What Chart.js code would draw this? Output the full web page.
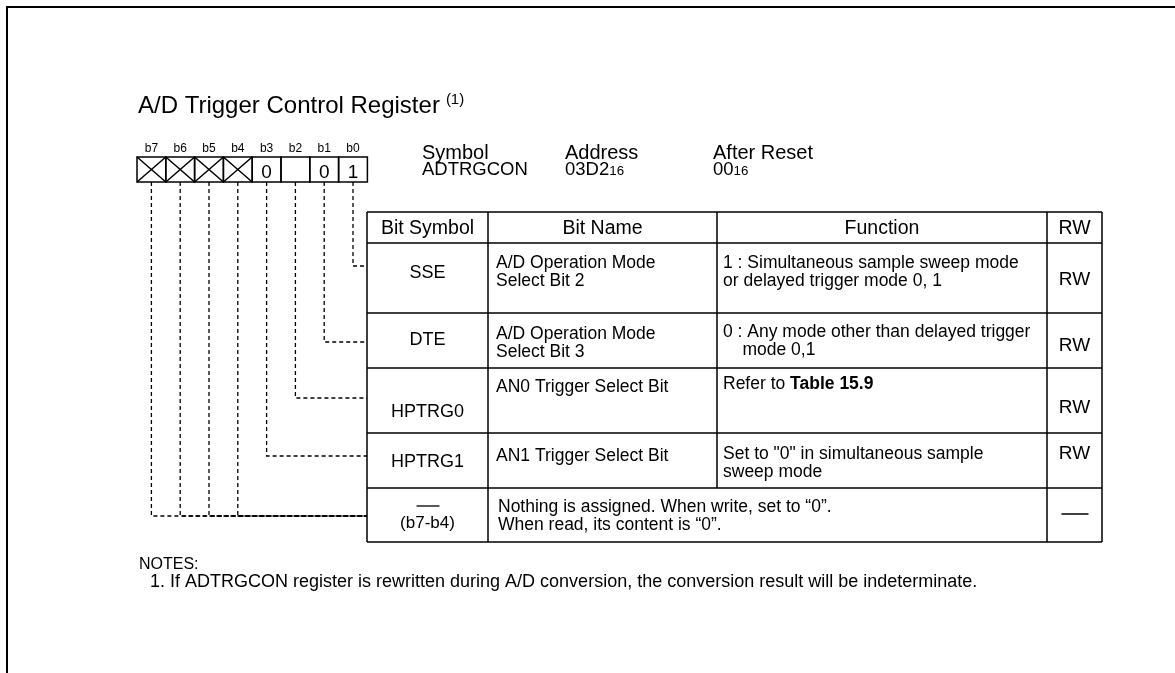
<!DOCTYPE html>
<html>
<head>
<meta charset="utf-8">
<script src="https://cdn.jsdelivr.net/npm/chart.js"></script>
<style>
  html, body { margin: 0; padding: 0; background: #fff; }
  #wrap { width: 1175px; height: 673px; position: relative; }
</style>
</head>
<body>
<div id="wrap"><canvas id="reg"></canvas></div>
<script>
// register content
const titleText = 'A/D Trigger Control Register';
const titleNote = '(1)';
const bitLabels = ['b7', 'b6', 'b5', 'b4', 'b3', 'b2', 'b1', 'b0'];
const bitValues = ['', '', '', '', '0', '', '0', '1'];
const bitReserved = [true, true, true, true, false, false, false, false];
const infoHeads = ['Symbol', 'Address', 'After Reset'];
const infoValues = [[['ADTRGCON']], [['03D2'], ['16', 'sub']], [['00'], ['16', 'sub']]];
const headers = ['Bit Symbol', 'Bit Name', 'Function', 'RW'];
const bitSymbols = ['SSE', 'DTE', 'HPTRG0', 'HPTRG1', '(b7-b4)'];
const bitNames = [
    ['A/D Operation Mode', 'Select Bit 2'],
    ['A/D Operation Mode', 'Select Bit 3'],
    ['AN0 Trigger Select Bit'],
    ['AN1 Trigger Select Bit'],
    null
];
const functions = [
    [[['1 : Simultaneous sample sweep mode']], [['or delayed trigger mode 0, 1']]],
    [[['0 : Any mode other than delayed trigger']], [['    mode 0,1']]],
    [[['Refer to '], ['Table 15.9', 'bold']]],
    [[['Set to "0" in simultaneous sample']], [['sweep mode']]],
    [[['Nothing is assigned. When write, set to \u201c0\u201d.']], [['When read, its content is \u201c0\u201d.']]]
];
const rwValues = ['RW', 'RW', 'RW', 'RW', '-'];
const rowBits = [[7], [6], [5], [4], [0, 1, 2, 3]]; // index into bitLabels
const notes = ['NOTES:', '1. If ADTRGCON register is rewritten during A/D conversion, the conversion result will be indeterminate.'];

// layout (page pixels)
const FONT = '"Liberation Sans", Arial, Helvetica, sans-serif';
const bitX0 = 137, bitW = 28.8, bitTop = 157, bitBottom = 182;
const infoX = [422, 565, 713];
const cols = [367, 488, 717, 1047, 1102];
const rows = [212, 243, 313, 368, 433, 488, 542];
const leaderY = [266, 342, 398, 456, 516];
const symBase = [278, 345, 417, 467, 528];
const textBase = [[268, 286], [339, 357], [392], [461, 479], [512, 530]];
const funcBase = [[268, 286], [337, 355], [389], [459, 477], [512, 530]];
const rwBase = [285, 351, 413, 459, 514];

const bitCenter = i => bitX0 + bitW * (i + 0.5);

// leader lines from each bit to its row
const leaderSets = [];
rowBits.forEach((bits, r) => {
    bits.forEach(b => {
        leaderSets.push({
            data: [
                { x: bitCenter(b), y: bitBottom },
                { x: bitCenter(b), y: leaderY[r] },
                { x: cols[0], y: leaderY[r] }
            ],
            showLine: true,
            borderColor: '#000',
            borderWidth: 1.3,
            borderDash: [4, 3],
            pointRadius: 0,
            tension: 0
        });
    });
});

function drawSegs(ctx, segs, x, y, size, align) {
    const fontFor = s => (s[1] === 'bold' ? 'bold ' : '') + (s[1] === 'sub' ? size * 0.72 : size) + 'px ' + FONT;
    let total = 0;
    segs.forEach(s => { ctx.font = fontFor(s); total += ctx.measureText(s[0]).width; });
    let cx = align === 'center' ? x - total / 2 : x;
    ctx.textAlign = 'left';
    segs.forEach(s => {
        ctx.font = fontFor(s);
        ctx.fillText(s[0], cx, y);
        cx += ctx.measureText(s[0]).width;
    });
}

const registerPlugin = {
    id: 'registerDiagram',
    afterDatasetsDraw(chart) {
        const { ctx } = chart;
        const X = v => chart.scales.x.getPixelForValue(v);
        const Y = v => chart.scales.y.getPixelForValue(v);
        ctx.save();
        ctx.fillStyle = '#000';
        ctx.strokeStyle = '#000';
        ctx.textBaseline = 'alphabetic';

        // outer frame (top and left)
        ctx.lineWidth = 2;
        ctx.beginPath();
        ctx.moveTo(X(7), Y(673));
        ctx.lineTo(X(7), Y(7));
        ctx.lineTo(X(1175), Y(7));
        ctx.stroke();

        // title
        ctx.font = '24px ' + FONT;
        ctx.textAlign = 'left';
        ctx.fillText(titleText, X(138), Y(113));
        const tw = ctx.measureText(titleText).width;
        ctx.font = '15px ' + FONT;
        ctx.fillText(titleNote, X(138) + tw + 6, Y(104));

        // bit boxes
        ctx.lineWidth = 1.5;
        bitLabels.forEach((lab, i) => {
            const x0 = X(bitX0 + bitW * i), x1 = X(bitX0 + bitW * (i + 1));
            ctx.strokeRect(x0, Y(bitTop), x1 - x0, Y(bitBottom) - Y(bitTop));
            ctx.font = '12px ' + FONT;
            ctx.textAlign = 'center';
            ctx.fillText(lab, X(bitCenter(i)), Y(152));
            if (bitReserved[i]) {
                ctx.beginPath();
                ctx.moveTo(x0, Y(bitTop)); ctx.lineTo(x1, Y(bitBottom));
                ctx.moveTo(x1, Y(bitTop)); ctx.lineTo(x0, Y(bitBottom));
                ctx.stroke();
            } else if (bitValues[i]) {
                ctx.font = '19px ' + FONT;
                ctx.fillText(bitValues[i], X(bitCenter(i)), Y(178));
            }
        });

        // symbol / address / after reset
        infoHeads.forEach((h, i) => {
            ctx.font = '20px ' + FONT;
            ctx.textAlign = 'left';
            ctx.fillText(h, X(infoX[i]), Y(159));
            drawSegs(ctx, infoValues[i], X(infoX[i]), Y(175), 18.5, 'left');
        });

        // table grid
        ctx.lineWidth = 1.5;
        ctx.beginPath();
        rows.forEach(ry => {
            ctx.moveTo(X(cols[0]), Y(ry));
            ctx.lineTo(X(cols[4]), Y(ry));
        });
        [0, 1, 3, 4].forEach(c => {
            ctx.moveTo(X(cols[c]), Y(rows[0]));
            ctx.lineTo(X(cols[c]), Y(rows[rows.length - 1]));
        });
        ctx.moveTo(X(cols[2]), Y(rows[0]));
        ctx.lineTo(X(cols[2]), Y(rows[rows.length - 2]));
        ctx.stroke();

        // header
        ctx.font = '19.5px ' + FONT;
        ctx.textAlign = 'center';
        headers.forEach((h, c) => {
            ctx.fillText(h, X((cols[c] + cols[c + 1]) / 2), Y(234));
        });

        // rows
        bitSymbols.forEach((sym, r) => {
            ctx.font = (bitNames[r] ? 18 : 17) + 'px ' + FONT;
            ctx.textAlign = 'center';
            const sx = X((cols[0] + cols[1]) / 2);
            ctx.fillText(sym, sx, Y(symBase[r]));
            if (!bitNames[r]) {
                // reserved: overline above the symbol
                ctx.lineWidth = 1.3;
                ctx.beginPath();
                ctx.moveTo(sx - 11, Y(506));
                ctx.lineTo(sx + 12, Y(506));
                ctx.stroke();
            } else {
                bitNames[r].forEach((line, k) => {
                    ctx.font = '17.5px ' + FONT;
                    ctx.textAlign = 'left';
                    ctx.fillText(line, X(cols[1] + 8), Y(textBase[r][k]));
                });
            }
            const fx = bitNames[r] ? cols[2] + 6 : cols[1] + 10;
            const fb = bitNames[r] ? funcBase[r] : textBase[r];
            functions[r].forEach((line, k) => {
                drawSegs(ctx, line, X(fx), Y(fb[k]), 17.5, 'left');
            });
            const rx = X((cols[3] + cols[4]) / 2);
            if (rwValues[r] === '-') {
                ctx.lineWidth = 1.5;
                ctx.beginPath();
                ctx.moveTo(rx - 13, Y(rwBase[r]));
                ctx.lineTo(rx + 14, Y(rwBase[r]));
                ctx.stroke();
            } else {
                ctx.font = '19px ' + FONT;
                ctx.textAlign = 'center';
                ctx.fillText(rwValues[r], rx, Y(rwBase[r]));
            }
        });

        // notes
        ctx.textAlign = 'left';
        ctx.font = '16px ' + FONT;
        ctx.fillText(notes[0], X(139), Y(569));
        ctx.font = '18px ' + FONT;
        ctx.fillText(notes[1], X(150), Y(587));
        ctx.restore();
    }
};

new Chart(document.getElementById('reg'), {
    type: 'scatter',
    data: { datasets: leaderSets },
    options: {
        responsive: true,
        maintainAspectRatio: false,
        animation: false,
        layout: { padding: 0 },
        plugins: { legend: { display: false }, tooltip: { enabled: false } },
        scales: {
            x: { type: 'linear', min: 0, max: 1175, display: false },
            y: { type: 'linear', min: 0, max: 673, reverse: true, display: false }
        }
    },
    plugins: [registerPlugin]
});
</script>
</body>
</html>
